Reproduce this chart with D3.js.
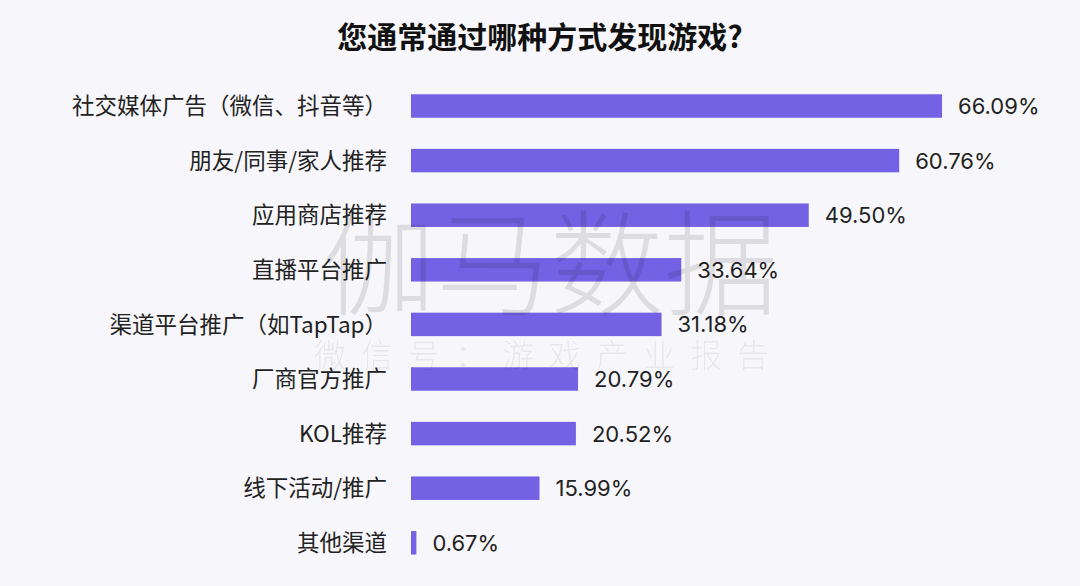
<!DOCTYPE html>
<html>
<head>
<meta charset="utf-8">
<script src="https://cdn.jsdelivr.net/npm/d3@7/dist/d3.min.js"></script>
<style>
  html, body { margin: 0; padding: 0; background: #f7f7fb; }
  svg { display: block; }
</style>
</head>
<body>
<svg id="chart" width="1080" height="586"></svg>
<script>
const titleText = "您通常通过哪种方式发现游戏?";
const categories = [
  "社交媒体广告（微信、抖音等）",
  "朋友/同事/家人推荐",
  "应用商店推荐",
  "直播平台推广",
  "渠道平台推广（如TapTap）",
  "厂商官方推广",
  "KOL推荐",
  "线下活动/推广",
  "其他渠道"
];
const values = [66.09, 60.76, 49.50, 33.64, 31.18, 20.79, 20.52, 15.99, 0.67];
const watermarkMain = "伽马数据";
const watermarkSub = "微信号：游戏产业报告";

const W = 1080, H = 586;
const svg = d3.select("#chart");
svg.append("rect").attr("width", W).attr("height", H).attr("fill", "#f7f7fb");

const cjk = "'Noto Sans CJK SC', 'Noto Sans', sans-serif";
const num = "Inter, 'Noto Sans', sans-serif";

svg.append("text")
  .attr("x", 540).attr("y", 48)
  .attr("text-anchor", "middle")
  .attr("font-family", cjk)
  .attr("font-weight", "bold")
  .attr("font-size", 30)
  .attr("fill", "#111")
  .text(titleText);

const x = d3.scaleLinear().domain([0, 100]).range([411, 411 + 803.5]);
const y = d3.scaleBand().domain(categories).range([78.7, 570.1])
  .paddingInner(0.57).paddingOuter(0.285);

const data = categories.map((c, i) => ({ c, v: values[i] }));

svg.append("g").selectAll("rect").data(data).join("rect")
  .attr("x", x(0))
  .attr("y", d => y(d.c))
  .attr("width", d => x(d.v) - x(0))
  .attr("height", y.bandwidth())
  .attr("fill", "#7461e3");

svg.append("g").selectAll("text").data(data).join("text")
  .attr("x", 387)
  .attr("y", d => y(d.c) + y.bandwidth() / 2)
  .attr("dy", "0.36em")
  .attr("text-anchor", "end")
  .attr("font-family", cjk)
  .attr("font-size", 22.5)
  .attr("fill", "#222")
  .text(d => d.c);

svg.append("g").selectAll("text").data(data).join("text")
  .attr("x", d => x(d.v) + 16)
  .attr("y", d => y(d.c) + y.bandwidth() / 2)
  .attr("dy", "0.36em")
  .attr("font-family", num)
  .attr("font-size", 22)
  .attr("fill", "#222")
  .text(d => d.v.toFixed(2) + "%");

// watermark
const wm = svg.append("g").attr("pointer-events", "none");
wm.append("text")
  .attr("x", 550).attr("y", 306)
  .attr("text-anchor", "middle")
  .attr("font-family", cjk)
  .attr("font-weight", 300)
  .attr("font-size", 114)
  .attr("fill", "#000")
  .attr("fill-opacity", 0.1)
  .text(watermarkMain);
wm.append("text")
  .attr("x", 549).attr("y", 367)
  .attr("text-anchor", "middle")
  .attr("font-family", cjk)
  .attr("font-weight", 300)
  .attr("font-size", 32)
  .attr("letter-spacing", 15)
  .attr("fill", "#000")
  .attr("fill-opacity", 0.08)
  .text(watermarkSub);
</script>
</body>
</html>
